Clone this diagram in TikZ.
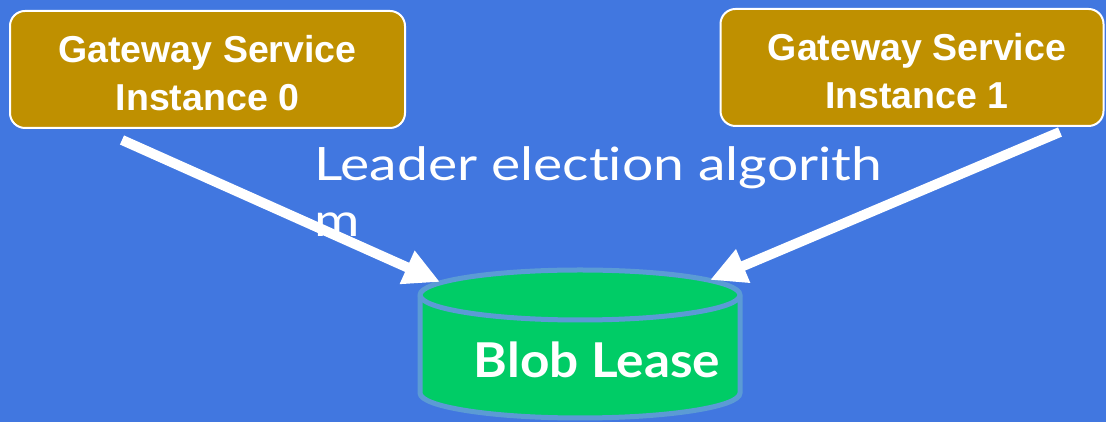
\documentclass[tikz,border=0pt]{standalone}
\usepackage{fontspec}
\setmainfont{Liberation Sans}
\newfontfamily\handfont[FakeStretch=1.2,Ligatures=NoCommon]{Lato}
\newfontfamily\blobfont[FakeStretch=1.07,Ligatures=NoCommon]{Lato}
\usetikzlibrary{arrows.meta}
\definecolor{bgblue}{HTML}{4177E0}
\definecolor{gold}{HTML}{BF9000}
\definecolor{cylgreen}{HTML}{00CC66}
\definecolor{cylborder}{HTML}{5B9BD5}
\tikzset{
  gwbox/.style={draw=white, line width=2pt, fill=gold, rounded corners=15pt,
    minimum width=#1, minimum height=117pt, inner sep=0pt},
  gwtext/.style={text=white, font=\fontsize{37.5}{47.5}\selectfont\bfseries, align=center},
  flow/.style={draw=white, line width=10pt, -{Triangle[length=36pt,width=34pt]}},
}
\begin{document}
\begin{tikzpicture}[x=1pt,y=1pt]
\fill[bgblue] (0,0) rectangle (1106,422);
\useasboundingbox (0,0) rectangle (1106,422);
% gateway boxes
\node[gwbox=395pt] (gw0) at (207.5,352.5) {};
\node[gwtext] (gw0t) at (207.5,349) {Gateway Service\\Instance 0};
\node[gwbox=383pt] (gw1) at (912,354.5) {};
\node[gwtext] (gw1t) at (917,351) {Gateway Service\\Instance 1};
% cylinder
\path[fill=cylgreen, draw=cylborder, line width=5pt]
  (420,127) -- (420,29) arc[start angle=180, end angle=360, x radius=160, y radius=25]
  -- (740,127) arc[start angle=0, end angle=180, x radius=160, y radius=25] -- cycle;
\draw[cylborder, line width=5pt] (420,127) arc[start angle=180, end angle=360, x radius=160, y radius=25];
\node[text=white, font=\blobfont\bfseries\fontsize{48}{56}\selectfont] (blob) at (597,62) {Blob Lease};
% label
\node[text=white, font=\handfont\fontsize{46}{56}\selectfont, align=left, anchor=north west, inner sep=0pt] (lbl) at (314,276) {Leader election algorith\\m};
% arrows
\coordinate (s0) at (122,282);
\coordinate (t0) at (440,140);
\coordinate (s1) at (1060,290);
\coordinate (t1) at (710,142);
\draw[flow] (s0) -- (t0);
\draw[flow] (s1) -- (t1);
\end{tikzpicture}
\end{document}
